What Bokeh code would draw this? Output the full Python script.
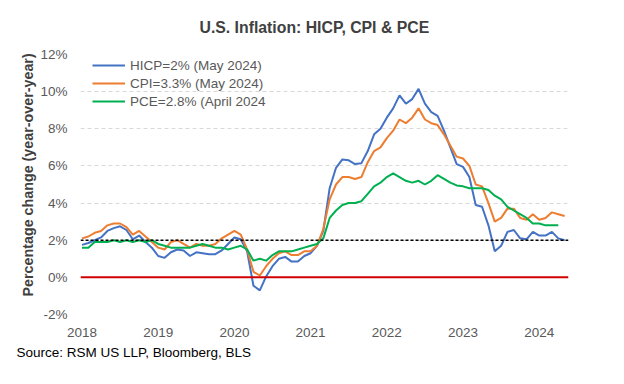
from bokeh.plotting import figure
from bokeh.models import (Range1d, FixedTicker, PrintfTickFormatter, Title,
                          Legend, LegendItem, Span)
from bokeh.embed import file_html
from bokeh.resources import INLINE

# ---------------- data (monthly, Jan 2018 onwards, % y/y) ----------------
year_labels = ["2018", "2019", "2020", "2021", "2022", "2023", "2024"]
y_ticks = [-2, 0, 2, 4, 6, 8, 10, 12]

hicp = [1.75, 1.85, 2.0, 2.15, 2.5, 2.65, 2.75, 2.55, 2.05, 2.25, 1.9, 1.6,
        1.15, 1.05, 1.35, 1.5, 1.45, 1.15, 1.35, 1.3, 1.25, 1.25, 1.45, 1.8,
        2.15, 2.05, 1.4, -0.45, -0.7, 0.05, 0.6, 1.0, 1.1, 0.85, 0.85, 1.15,
        1.3, 1.7, 2.5, 4.8, 5.9, 6.35, 6.3, 6.1, 6.15, 6.8, 7.7, 8.0,
        8.6, 9.1, 9.8, 9.35, 9.6, 10.15, 9.35, 8.9, 8.7, 7.9, 7.0, 6.1,
        5.95, 5.4, 3.9, 3.8, 2.8, 1.4, 1.7, 2.45, 2.55, 2.1, 2.05, 2.45,
        2.25, 2.25, 2.45, 2.1, 2.0]

cpi = [2.1, 2.2, 2.4, 2.5, 2.8, 2.9, 2.9, 2.7, 2.3, 2.5, 2.2, 1.9,
       1.6, 1.5, 1.9, 2.0, 1.8, 1.6, 1.8, 1.7, 1.7, 1.8, 2.1, 2.3,
       2.5, 2.3, 1.5, 0.3, 0.1, 0.6, 1.0, 1.3, 1.4, 1.2, 1.2, 1.4,
       1.4, 1.7, 2.6, 4.2, 5.0, 5.4, 5.4, 5.3, 5.4, 6.2, 6.8, 7.0,
       7.5, 7.9, 8.5, 8.3, 8.6, 9.1, 8.5, 8.3, 8.2, 7.7, 7.1, 6.5,
       6.4, 6.0, 5.0, 4.9, 4.0, 3.0, 3.2, 3.7, 3.7, 3.2, 3.1, 3.4,
       3.1, 3.2, 3.5, 3.4, 3.3]

pce = [1.6, 1.6, 1.9, 1.9, 1.9, 2.0, 1.9, 2.0, 1.9, 2.0, 1.9, 2.0,
       1.8, 1.7, 1.6, 1.6, 1.6, 1.6, 1.7, 1.8, 1.7, 1.6, 1.6, 1.5,
       1.6, 1.7, 1.5, 0.9, 1.0, 0.9, 1.2, 1.4, 1.4, 1.4, 1.5, 1.6,
       1.7, 1.8, 2.1, 3.2, 3.6, 3.9, 4.0, 4.0, 4.1, 4.5, 4.9, 5.1,
       5.4, 5.6, 5.4, 5.2, 5.1, 5.2, 5.0, 5.2, 5.5, 5.3, 5.1, 4.95,
       4.9, 4.8, 4.8, 4.8, 4.7, 4.4, 4.2, 3.8, 3.6, 3.4, 3.2, 2.9,
       2.9, 2.8, 2.8, 2.8]

series_names = ["HICP=2% (May 2024)", "CPI=3.3% (May 2024)", "PCE=2.8% (April 2024"]
target_level = 2
zero_level = 0

title_text = "U.S. Inflation: HICP, CPI & PCE"
ylabel_text = "Percentage change (year-over-year)"
source_text = "Source: RSM US LLP, Bloomberg, BLS"

# ---------------- figure ----------------
FONT = "Liberation Sans"
p = figure(width=608, height=368, output_backend="svg", toolbar_location=None,
           x_range=Range1d(-0.236, 76.61), y_range=Range1d(-2, 12),
           min_border_left=80, min_border_right=40, min_border_top=54,
           min_border_bottom=54)
p.outline_line_color = None
p.background_fill_color = "white"
p.border_fill_color = "white"

# chart title
p.title.text = title_text
p.title.align = "left"
p.title.offset = 119
p.title.vertical_align = "top"
p.title.standoff = 33
p.title.text_font = FONT
p.title.text_font_size = "15.8px"
p.title.text_font_style = "bold"
p.title.text_color = "#404040"

# axes
p.xaxis.ticker = FixedTicker(ticks=[12 * i for i in range(len(year_labels))])
p.xaxis.major_label_overrides = {12 * i: lab for i, lab in enumerate(year_labels)}
p.yaxis.ticker = FixedTicker(ticks=y_ticks)
p.yaxis.formatter = PrintfTickFormatter(format="%d%%")
for ax in (p.xaxis, p.yaxis):
    ax.axis_line_color = None
    ax.major_tick_line_color = None
    ax.minor_tick_line_color = None
    ax.major_tick_out = 0
    ax.major_tick_in = 0
    ax.major_label_text_font = FONT
    ax.major_label_text_font_size = "13.5px"
    ax.major_label_text_color = "#595959"
p.xaxis.major_label_standoff = 13
p.yaxis.major_label_standoff = 13

p.xgrid.grid_line_color = None
p.ygrid.grid_line_color = "#D9D9D9"
p.ygrid.grid_line_dash = "4 3"
p.ygrid.grid_line_width = 1

x_h = list(range(len(hicp)))
x_c = list(range(len(cpi)))
x_p = list(range(len(pce)))

r_h = p.line(x_h, hicp, line_color="#4472C4", line_width=2)
r_c = p.line(x_c, cpi, line_color="#ED7D31", line_width=2)
r_p = p.line(x_p, pce, line_color="#00B050", line_width=2)

p.add_layout(Span(location=zero_level, dimension="width", line_color="#D00000",
                  line_width=2))
p.add_layout(Span(location=target_level, dimension="width", line_color="black",
                  line_width=1.5, line_dash="3 2"))

legend = Legend(items=[LegendItem(label=series_names[0], renderers=[r_h]),
                       LegendItem(label=series_names[1], renderers=[r_c]),
                       LegendItem(label=series_names[2], renderers=[r_p])],
                location=(12, 204), orientation="vertical")
legend.padding = 0
legend.margin = 0
legend.spacing = 0
legend.glyph_width = 33
legend.glyph_height = 18
legend.label_height = 18
legend.label_standoff = 5
legend.label_text_font = FONT
legend.label_text_font_size = "13.5px"
legend.label_text_color = "#595959"
legend.background_fill_alpha = 0
legend.border_line_color = None
p.add_layout(legend)

# y-axis title (left) and source note (below)
ytitle = Title(text=ylabel_text, align="left", offset=18, standoff=4,
               text_font=FONT, text_font_size="14.3px", text_font_style="bold",
               text_color="#404040")
p.add_layout(ytitle, "left")
src = Title(text=source_text, align="left", offset=-64, standoff=7,
            text_font=FONT, text_font_size="13.5px", text_font_style="normal",
            text_color="black")
p.add_layout(src, "below")

open("out.html", "w").write(file_html(p, INLINE))
